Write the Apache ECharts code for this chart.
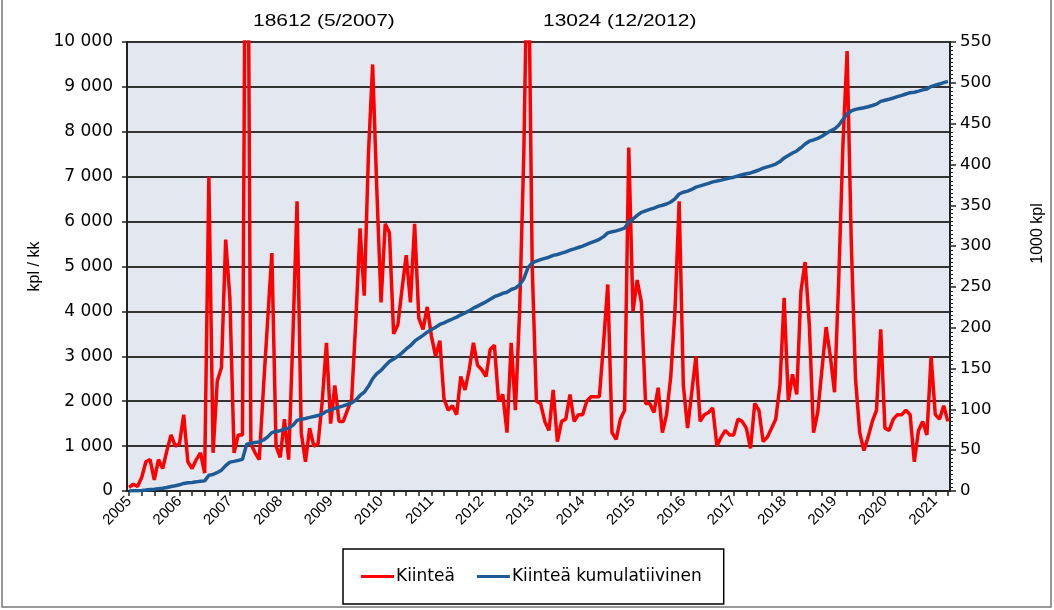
<!DOCTYPE html>
<html>
<head>
<meta charset="utf-8">
<script src="https://cdn.jsdelivr.net/npm/echarts@6/dist/echarts.min.js"></script>
<style>
html,body{margin:0;padding:0;background:#fff;}
#chart{width:1054px;height:610px;}
</style>
</head>
<body>
<div id="chart"></div>
<script>
// Tick labels / categories
const years = [2005,2006,2007,2008,2009,2010,2011,2012,2013,2014,2015,2016,2017,2018,2019,2020,2021];
const lastMonthOf2021 = 4; // data runs to April 2021
const months = [];
years.forEach(y => { for (let m = 1; m <= 12; m++) { if (y === 2021 && m > lastMonthOf2021) break; months.push(y + '-' + (m < 10 ? '0' + m : m)); } });

// Monthly registrations, kpl / kk (left axis)
const kiintea = [
  80,150,100,300,650,700,250,700,500,900,1250,1000,
  1050,1700,650,500,700,850,400,7000,850,2450,2750,5600,
  4300,850,1250,1250,18612,1050,850,700,2300,3800,5300,1000,
  750,1600,700,3400,6450,1300,650,1400,1000,1050,2000,3300,
  1500,2350,1550,1550,1800,2050,3800,5850,4350,7500,9500,6700,
  4200,5950,5750,3500,3700,4500,5250,4200,5950,3850,3600,4100,
  3450,3000,3350,2050,1800,1900,1700,2550,2250,2700,3300,2800,
  2700,2550,3150,3250,2000,2150,1300,3300,1800,4000,7500,13024,
  5000,2000,1950,1550,1350,2250,1100,1550,1600,2150,1550,1700,
  1700,2000,2100,2100,2100,3300,4600,1300,1150,1600,1800,7650,
  4000,4700,4200,1950,1950,1750,2300,1300,1700,2550,4000,6450,
  2350,1400,2200,3000,1550,1700,1750,1850,1000,1200,1350,1250,
  1250,1600,1550,1400,950,1950,1800,1100,1200,1400,1600,2350,
  4300,2000,2600,2150,4450,5100,3700,1300,1750,2700,3650,3000,
  2200,4700,7700,9800,5500,2500,1300,900,1200,1550,1800,3600,
  1400,1350,1600,1700,1700,1800,1700,650,1350,1550,1250,3000,
  1700,1600,1900,1550
];

// Cumulative, 1000 kpl (right axis)
const kumulatiivinen = [
  0.1,0.2,0.3,0.6,1.2,1.9,2.2,2.9,3.4,4.3,5.5,6.5,
  7.6,9.3,10.0,10.5,11.2,12.0,12.4,19.4,20.3,22.7,25.5,31.1,
  35.4,36.3,37.5,38.7,57.3,58.4,59.3,60.2,62.5,66.3,71.5,72.8,
  73.9,75.8,77.0,80.5,86.5,88.0,88.8,90.2,91.2,92.4,94.4,97.6,
  99.0,101.3,102.8,104.3,106.0,108.0,111.5,117.0,121.0,128.2,137.5,143.8,
  147.8,153.4,158.5,161.7,165.0,169.2,174.0,178.0,183.5,187.2,190.6,194.5,
  197.8,200.7,204.0,206.0,208.5,210.7,213.0,215.8,218.2,220.8,224.0,226.5,
  229.2,231.7,234.8,238.0,240.0,242.2,243.5,246.8,248.6,252.6,260.0,273.5,
  279.5,281.5,283.5,285.0,286.4,288.6,289.7,291.3,292.9,295.0,296.6,298.3,
  300.0,302.0,304.1,306.2,308.3,311.6,316.2,317.5,318.6,320.2,322.0,329.5,
  333.2,337.6,341.4,343.2,345.0,346.6,348.7,350.0,351.6,354.0,357.8,363.8,
  366.0,367.3,369.4,372.2,373.7,375.3,376.9,378.7,379.7,380.8,382.0,383.2,
  384.4,385.9,387.4,388.7,389.6,391.4,393.2,395.5,397.0,398.5,400.5,403.5,
  408.0,411.0,414.0,416.5,420.5,425.0,428.5,430.0,432.0,434.5,438.0,441.0,
  443.5,448.0,455.0,462.0,465.5,467.5,468.5,469.5,470.7,472.2,473.9,477.3,
  478.6,479.9,481.4,483.0,484.6,486.3,487.9,488.5,489.8,491.3,492.5,495.4,
  497.0,498.5,500.3,501.8
];

const seriesNames = ['Kiinteä', 'Kiinteä kumulatiivinen'];
const peakNotes = ['18612 (5/2007)', '13024 (12/2012)'];

const FONT = '"Liberation Sans", Arial, sans-serif';
const WIDE = '"DejaVu Sans", "Liberation Sans", sans-serif';
const fmtSpace = v => String(v).replace(/\B(?=(\d{3})+(?!\d))/g, ' ');

const chart = echarts.init(document.getElementById('chart'), null, {renderer: 'canvas'});
chart.setOption({
  backgroundColor: '#ffffff',
  animation: false,
  textStyle: {fontFamily: FONT},
  grid: {
    left: 127, top: 42, width: 826, height: 449,
    show: true, backgroundColor: '#E3E8F0', borderWidth: 0
  },
  legend: {
    data: seriesNames,
    left: 343, top: 549,
    orient: 'horizontal',
    itemWidth: 33, itemHeight: 3, itemGap: 22,
    icon: 'rect',
    borderColor: '#000', borderWidth: 1.5,
    padding: [19, 22, 19, 18],
    textStyle: {fontFamily: WIDE, fontSize: 17, color: '#000', padding: [0, 0, 0, -3]}
  },
  xAxis: {
    type: 'category',
    data: months,
    boundaryGap: true,
    axisLine: {show: true, lineStyle: {color: '#222', width: 2}},
    axisTick: {show: true, interval: 2, alignWithLabel: true, length: 5, lineStyle: {color: '#222', width: 1.5}},
    axisLabel: {
      interval: 11, rotate: 45, margin: 8,
      fontFamily: FONT, fontSize: 15, color: '#000',
      formatter: v => v.slice(0, 4)
    },
    splitLine: {show: false}
  },
  yAxis: [
    {
      type: 'value', min: 0, max: 10000, interval: 1000,
      name: 'kpl / kk', nameLocation: 'middle', nameRotate: 90, nameGap: 74,
      nameTextStyle: {fontFamily: FONT, fontSize: 16, color: '#000'},
      axisLine: {show: true, lineStyle: {color: '#222', width: 2}},
      axisTick: {show: true, length: 5, lineStyle: {color: '#222', width: 1.5}},
      axisLabel: {fontFamily: WIDE, fontSize: 17, color: '#000', margin: 14, formatter: fmtSpace},
      splitLine: {show: true, lineStyle: {color: '#333', width: 2}}
    },
    {
      type: 'value', min: 0, max: 550, interval: 50, position: 'right',
      name: '1000 kpl', nameLocation: 'middle', nameRotate: 90, nameGap: 80,
      nameTextStyle: {fontFamily: FONT, fontSize: 16, color: '#000', padding: [0, 0, 0, 66]},
      axisLine: {show: true, lineStyle: {color: '#222', width: 2}},
      axisTick: {show: true, length: 6, lineStyle: {color: '#222', width: 1.5}},
      minorTick: {show: true, splitNumber: 10, length: 3, lineStyle: {color: '#222', width: 1}},
      axisLabel: {fontFamily: WIDE, fontSize: 16.5, color: '#000', margin: 10},
      splitLine: {show: false}
    }
  ],
  series: [
    {
      name: seriesNames[0], type: 'line', yAxisIndex: 0, data: kiintea,
      showSymbol: false, symbol: 'none', clip: true,
      lineStyle: {color: '#FF0000', width: 3.5}, itemStyle: {color: '#FF0000'}, z: 3
    },
    {
      name: seriesNames[1], type: 'line', yAxisIndex: 1, data: kumulatiivinen,
      showSymbol: false, symbol: 'none',
      lineStyle: {color: '#1E5B96', width: 3.5}, itemStyle: {color: '#1E5B96'}, z: 4
    }
  ],
  graphic: [
    {type: 'rect', shape: {x: 2, y: -4, width: 1049, height: 611}, style: {fill: 'none', stroke: '#777', lineWidth: 1.5}, silent: true},
    {type: 'text', x: 253, y: 13, scaleX: 1.23, style: {text: peakNotes[0], font: '17px ' + FONT, fill: '#000'}},
    {type: 'text', x: 543, y: 13, scaleX: 1.23, style: {text: peakNotes[1], font: '17px ' + FONT, fill: '#000'}}
  ]
});
</script>
</body>
</html>
